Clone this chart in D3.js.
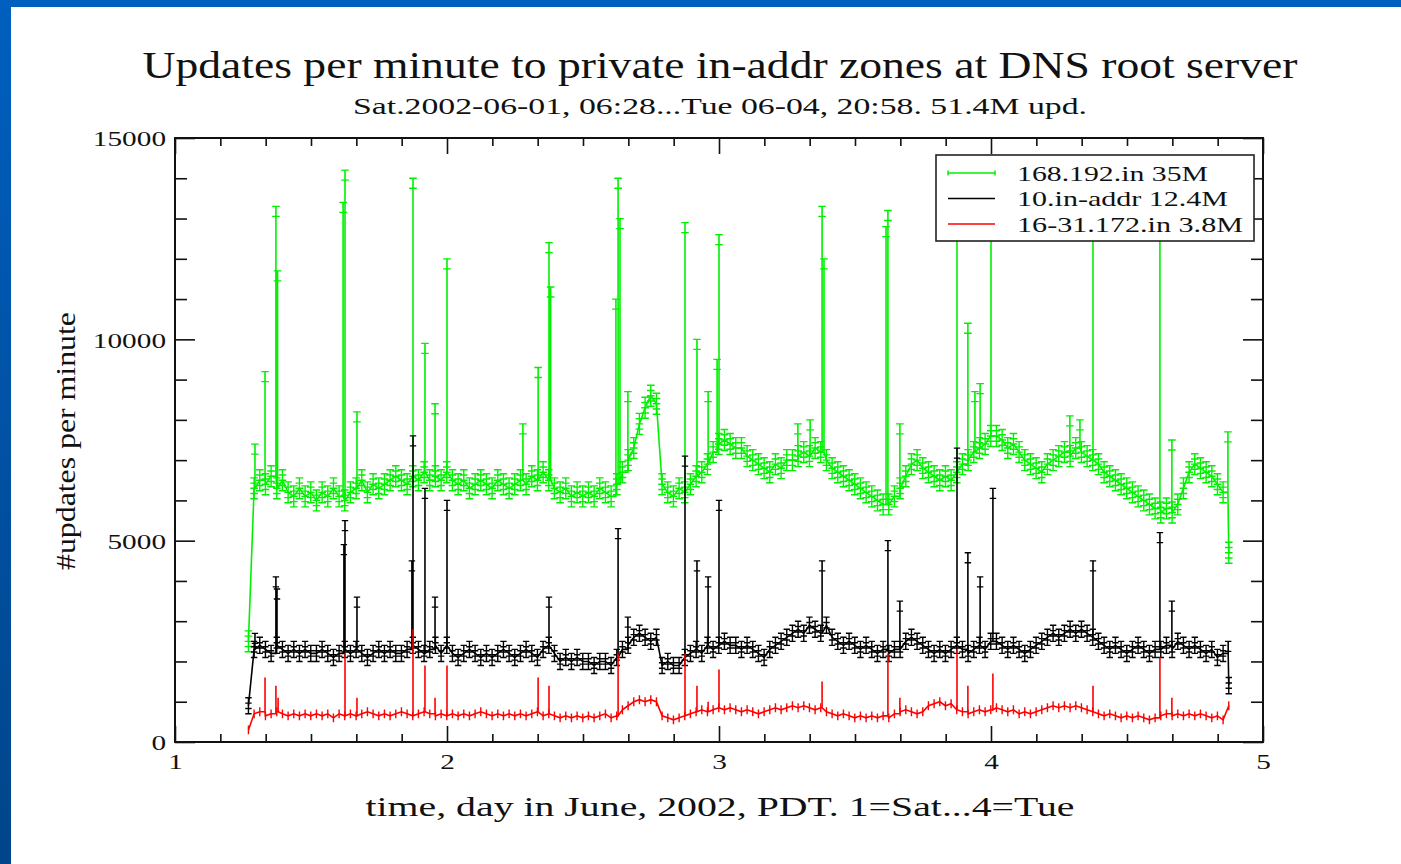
<!DOCTYPE html>
<html>
<head>
<meta charset="utf-8">
<script src="https://cdn.jsdelivr.net/npm/d3@7"></script>
<style>
  body { margin: 0; background: #fff; overflow: hidden; }
  svg text { font-family: "Liberation Serif", "Times New Roman", serif; fill: #111; }
</style>
</head>
<body>
<div id="chart"></div>
<script>
// time grid: one reading every 30 minutes, starting Sat 06:28 (day 1.27)
const startDay = 1.27;
const stepDay = 1 / 48;

// 168.192.in updates per minute (baseline readings)
const greenRate = [
  2500, 6300, 6500, 6400, 6600, 6300, 6500, 6200, 6100, 6300, 6100, 6200,
  6000, 6200, 6100, 6300, 6100, 6000, 6200, 6300, 6500, 6200, 6400, 6300,
  6400, 6500, 6600, 6500, 6400, 6600, 6500, 6700, 6500, 6600, 6500, 6700,
  6500, 6400, 6500, 6300, 6400, 6500, 6400, 6300, 6500, 6400, 6300, 6400,
  6500, 6400, 6600, 6500, 6700, 6500, 6300, 6200, 6300, 6100, 6200, 6100,
  6200, 6100, 6300, 6200, 6100, 6400, 6700, 7000, 7300, 7900, 8300, 8600,
  8400, 6400, 6200, 6100, 6300, 6200, 6400, 6600, 6700, 6900, 7200, 7400,
  7500, 7400, 7300, 7300, 7100, 7000, 6900, 6800, 6700, 6900, 6800, 7000,
  7000, 7100, 7200, 7100, 7300, 7200, 7000, 6800, 6700, 6600, 6500, 6400,
  6300, 6200, 6100, 6000, 5900, 5900, 6100, 6300, 6600, 6900, 7000, 6800,
  6700, 6600, 6500, 6600, 6500, 6700, 6900, 7000, 7200, 7300, 7400, 7600,
  7600, 7500, 7300, 7400, 7200, 7000, 6900, 6800, 6700, 6900, 7000, 7100,
  7200, 7100, 7300, 7200, 7100, 7000, 6900, 6700, 6600, 6500, 6400, 6300,
  6200, 6100, 6000, 5900, 5800, 5700, 5800, 5700, 5900, 6300, 6700, 6900,
  6800, 6700, 6600, 6400, 6200, 4700
];
// short bursts [day, updates per minute]
const greenSpikes = [
  [1.294, 7400], [1.331, 9200], [1.371, 13300], [1.377, 11700],
  [1.618, 13400], [1.625, 14200], [1.669, 8200],
  [1.875, 14000], [1.919, 9900], [1.956, 8400], [2.000, 12000],
  [2.279, 7900], [2.335, 9300], [2.375, 12400], [2.381, 11300],
  [2.621, 11000], [2.629, 14000], [2.636, 13000], [2.665, 8700],
  [2.875, 12900], [2.919, 10000], [2.960, 8700], [2.993, 9500], [3.000, 12600],
  [3.290, 7900], [3.335, 8000], [3.379, 13300], [3.386, 12000],
  [3.614, 12800], [3.621, 13200], [3.665, 7900],
  [3.875, 13800], [3.915, 10400], [3.941, 8700], [3.960, 8900], [4.000, 12800],
  [4.290, 8100], [4.327, 8000], [4.375, 13000],
  [4.621, 13500], [4.665, 7500], [4.871, 7700]
];

// 10.in-addr updates per minute
const blackRate = [
  900, 2300, 2400, 2300, 2200, 2400, 2300, 2200, 2300, 2200, 2300, 2200,
  2200, 2300, 2200, 2100, 2200, 2300, 2200, 2300, 2200, 2100, 2200, 2300,
  2200, 2300, 2200, 2200, 2300, 2400, 2300, 2200, 2300, 2400, 2200, 2400,
  2200, 2100, 2200, 2300, 2200, 2100, 2200, 2100, 2200, 2300, 2200, 2100,
  2200, 2300, 2200, 2100, 2300, 2400, 2200, 2000, 2100, 2000, 2100, 2000,
  2000, 1900, 2000, 2000, 1900, 2100, 2300, 2400, 2600, 2700, 2600, 2500,
  2600, 1900, 2000, 1900, 1900, 2100, 2200, 2300, 2200, 2400, 2300, 2400,
  2500, 2400, 2400, 2300, 2400, 2300, 2200, 2100, 2300, 2400, 2500, 2600,
  2700, 2800, 2700, 2900, 2800, 2700, 2900, 2600, 2500, 2400, 2500, 2400,
  2300, 2400, 2300, 2200, 2300, 2200, 2300, 2300, 2500, 2600, 2500, 2400,
  2300, 2200, 2300, 2200, 2300, 2400, 2300, 2200, 2300, 2400, 2300, 2500,
  2500, 2400, 2300, 2400, 2300, 2200, 2300, 2400, 2500, 2600, 2700, 2600,
  2700, 2800, 2700, 2800, 2700, 2600, 2500, 2400, 2300, 2400, 2300, 2200,
  2300, 2400, 2300, 2200, 2300, 2300, 2400, 2300, 2500, 2400, 2300, 2400,
  2300, 2200, 2300, 2100, 2200, 1400
];
const blackSpikes = [
  [1.294, 2700], [1.371, 4100], [1.375, 3800],
  [1.621, 4900], [1.625, 5500], [1.669, 3600],
  [1.871, 4500], [1.875, 7600], [1.919, 6300], [1.956, 3600], [2.000, 6000],
  [2.375, 3600], [2.629, 5300], [2.665, 3100],
  [2.875, 7100], [2.919, 4500], [2.960, 4100], [3.000, 6000],
  [3.379, 4500], [3.621, 5000], [3.665, 3500],
  [3.875, 7300], [3.915, 4700], [3.960, 4100], [4.007, 6300],
  [4.375, 4500], [4.621, 5200], [4.665, 3500], [4.872, 2500]
];

// 16-31.172.in updates per minute
const redRate = [
  300, 700, 750, 650, 700, 750, 700, 650, 700, 650, 700, 650,
  700, 650, 700, 600, 700, 650, 700, 650, 700, 750, 700, 650,
  700, 650, 700, 750, 700, 650, 700, 750, 700, 650, 700, 650,
  700, 650, 700, 650, 700, 750, 700, 650, 700, 650, 700, 650,
  700, 650, 700, 750, 650, 700, 650, 600, 650, 600, 650, 600,
  650, 600, 650, 700, 600, 650, 800, 900, 1000, 1050, 1000, 1050,
  1000, 650, 600, 550, 600, 650, 700, 750, 800, 750, 800, 850,
  800, 850, 800, 750, 800, 750, 700, 750, 800, 850, 800, 850,
  900, 850, 900, 850, 800, 850, 750, 700, 650, 700, 650, 600,
  650, 600, 650, 600, 650, 600, 700, 750, 800, 750, 700, 750,
  900, 950, 1000, 900, 950, 800, 750, 700, 750, 800, 750, 800,
  850, 800, 750, 800, 700, 750, 700, 750, 800, 850, 900, 850,
  900, 850, 900, 850, 800, 750, 700, 650, 700, 650, 600, 650,
  600, 650, 600, 550, 600, 650, 700, 650, 700, 650, 700, 650,
  700, 650, 600, 650, 550, 900
];
const redSpikes = [
  [1.331, 1600], [1.371, 1400], [1.379, 1100],
  [1.625, 2200], [1.669, 1100],
  [1.875, 2800], [1.919, 1900], [1.956, 1100], [2.000, 1900],
  [2.335, 1600], [2.375, 1400], [2.629, 2200],
  [2.875, 2200], [2.919, 1400], [2.960, 1000], [3.000, 1800],
  [3.379, 1500], [3.621, 2200], [3.665, 1100],
  [3.875, 2300], [3.915, 1400], [4.007, 1700],
  [4.375, 1400], [4.621, 2100], [4.665, 1100]
];

// minute-to-minute scatter around each reading (half band width, updates/min)
const greenScatter = 260;
const blackScatter = 200;
const redScatter = 110;

const seriesNames = ['168.192.in 35M', '10.in-addr 12.4M', '16-31.172.in 3.8M'];
const seriesColors = ['#00f000', '#000000', '#ff0000'];
const dayTicks = [1, 2, 3, 4, 5];
const rateTicks = [0, 5000, 10000, 15000];

class RateChart {
  constructor(_config, _series) {
    this.config = {
      parentElement: _config.parentElement,
      containerWidth: _config.containerWidth || 1401,
      containerHeight: _config.containerHeight || 864,
      frame: _config.frame || { left: 175, right: 1263, top: 138, bottom: 742 }
    };
    this.series = _series;
    this.initVis();
  }

  initVis() {
    let vis = this;

    vis.svg = d3.select(vis.config.parentElement)
      .append('svg')
      .attr('width', vis.config.containerWidth)
      .attr('height', vis.config.containerHeight);

    // blue slide border
    const grad = vis.svg.append('defs').append('linearGradient')
      .attr('id', 'border').attr('x1', 0).attr('y1', 0).attr('x2', 0).attr('y2', 1);
    grad.append('stop').attr('offset', '0%').attr('stop-color', '#005fbf');
    grad.append('stop').attr('offset', '100%').attr('stop-color', '#00458a');
    vis.svg.append('rect').attr('width', vis.config.containerWidth).attr('height', vis.config.containerHeight)
      .attr('fill', 'url(#border)');
    vis.svg.append('rect').attr('x', 11).attr('y', 7)
      .attr('width', vis.config.containerWidth - 11).attr('height', vis.config.containerHeight - 7)
      .attr('fill', '#fff');

    const f = vis.config.frame;
    vis.xScale = d3.scaleLinear().domain([1, 5]).range([f.left, f.right]);
    vis.yScale = d3.scaleLinear().domain([0, 15000]).range([f.bottom, f.top]);

    // titles
    vis.svg.append('text')
      .attr('x', 720).attr('y', 78)
      .attr('text-anchor', 'middle')
      .style('font-size', '38px')
      .attr('textLength', 1155).attr('lengthAdjust', 'spacingAndGlyphs')
      .text('Updates per minute to private in-addr zones at DNS root server');
    vis.svg.append('text')
      .attr('x', 720).attr('y', 114)
      .attr('text-anchor', 'middle')
      .style('font-size', '24px')
      .attr('textLength', 734).attr('lengthAdjust', 'spacingAndGlyphs')
      .text('Sat.2002-06-01, 06:28...Tue 06-04, 20:58. 51.4M upd.');
    vis.svg.append('text')
      .attr('x', 720).attr('y', 816)
      .attr('text-anchor', 'middle')
      .style('font-size', '27px')
      .attr('textLength', 709).attr('lengthAdjust', 'spacingAndGlyphs')
      .text('time, day in June, 2002, PDT. 1=Sat...4=Tue');
    vis.svg.append('text')
      .attr('transform', 'translate(75,441) rotate(-90)')
      .attr('text-anchor', 'middle')
      .style('font-size', '28px')
      .attr('textLength', 258).attr('lengthAdjust', 'spacingAndGlyphs')
      .text('#updates per minute');

    vis.plot = vis.svg.append('g');
    vis.axes = vis.svg.append('g');

    vis.updateVis();
  }

  updateVis() {
    let vis = this;
    const f = vis.config.frame;
    const minorDays = d3.range(1, 5.001, 1 / 6).filter(d => Math.abs(d - Math.round(d)) > 1e-6);
    const minorRates = d3.range(0, 15001, 1000).filter(d => d % 5000 !== 0);

    // regular readings plus bursts; a burst rises straight up from the reading before it
    const build = (rates, spikes) => {
      const pts = rates.map((v, i) => ({ t: startDay + i * stepDay, v: v, grid: true }));
      spikes.forEach(([t, peak]) => {
        const i = Math.max(0, Math.min(rates.length - 1, Math.floor((t - startDay) / stepDay)));
        pts.push({ t: t, v: rates[i] }, { t: t, v: peak, top: true }, { t: t, v: rates[i] });
      });
      return pts.sort((a, b) => a.t - b.t);
    };

    const line = d3.line().x(d => vis.xScale(d.t)).y(d => vis.yScale(d.v));

    vis.series.forEach((s, k) => {
      const pts = build(s.rates, s.spikes);
      const c = s.cap;

      // scatter band of the per-minute values: a bar with symbol rungs per reading
      vis.plot.append('path')
        .attr('fill', 'none')
        .attr('stroke', seriesColors[k])
        .attr('stroke-width', 1.4)
        .attr('d', pts.filter(d => d.grid).map(d => {
          const x = vis.xScale(d.t);
          const lo = vis.yScale(Math.max(0, d.v - s.scatter));
          const hi = vis.yScale(d.v + s.scatter);
          let p = `M${x},${lo}V${hi}`;
          for (let r = 0; r < s.rungs; r++) {
            const y = lo + (hi - lo) * r / (s.rungs - 1);
            p += `M${x - c},${y}h${2 * c}`;
          }
          return p;
        }).join(''));

      vis.plot.append('path')
        .datum(pts)
        .attr('fill', 'none')
        .attr('stroke', seriesColors[k])
        .attr('stroke-width', 1.6)
        .attr('d', line);

      if (c > 0) {
        vis.plot.append('path')
          .attr('fill', 'none')
          .attr('stroke', seriesColors[k])
          .attr('stroke-width', 1.3)
          .attr('d', pts.filter(d => d.top).map(d => {
            const x = vis.xScale(d.t), y = vis.yScale(d.v);
            return `M${x - c},${y}h${2 * c}M${x - c},${y + 10}h${2 * c}`;
          }).join(''));
      }
    });

    // frame and inward ticks on all four sides
    const tickStyle = g => {
      g.select('.domain').remove();
      g.selectAll('.tick line').attr('stroke', '#111').attr('stroke-width', 1.6);
    };
    const addAxis = (axis, tx, ty) => vis.axes.append('g')
      .attr('transform', `translate(${tx},${ty})`).call(axis).call(tickStyle);

    addAxis(d3.axisBottom(vis.xScale).tickValues(minorDays).tickSize(-8).tickFormat(''), 0, f.bottom);
    addAxis(d3.axisTop(vis.xScale).tickValues(minorDays).tickSize(-8).tickFormat(''), 0, f.top);
    addAxis(d3.axisTop(vis.xScale).tickValues(dayTicks).tickSize(-16).tickFormat(''), 0, f.top);
    addAxis(d3.axisLeft(vis.yScale).tickValues(minorRates).tickSize(-12).tickFormat(''), f.left, 0);
    addAxis(d3.axisRight(vis.yScale).tickValues(minorRates).tickSize(-12).tickFormat(''), f.right, 0);
    addAxis(d3.axisRight(vis.yScale).tickValues(rateTicks).tickSize(-20).tickFormat(''), f.right, 0);

    const xAxisG = addAxis(d3.axisBottom(vis.xScale).tickValues(dayTicks).tickSize(-16)
      .tickPadding(11).tickFormat(d3.format('d')), 0, f.bottom);
    const yAxisG = addAxis(d3.axisLeft(vis.yScale).tickValues(rateTicks).tickSize(-20)
      .tickPadding(9).tickFormat(d3.format('d')), f.left, 0);
    [xAxisG, yAxisG].forEach(g => {
      g.selectAll('text')
        .style('font-size', '22px')
        .attr('fill', '#111')
        .each(function () {
          const w = this.getComputedTextLength();
          d3.select(this).attr('textLength', w * 1.33).attr('lengthAdjust', 'spacingAndGlyphs');
        });
    });
    yAxisG.selectAll('text').attr('dy', '0.36em');

    vis.axes.append('rect')
      .attr('x', f.left).attr('y', f.top)
      .attr('width', f.right - f.left).attr('height', f.bottom - f.top)
      .attr('fill', 'none').attr('stroke', '#111').attr('stroke-width', 2);

    // legend
    const legend = vis.axes.append('g');
    legend.append('rect')
      .attr('x', 936).attr('y', 155).attr('width', 318).attr('height', 86)
      .attr('fill', '#fff').attr('stroke', '#222').attr('stroke-width', 1.6);
    const textWidths = [191, 211, 226];
    seriesNames.forEach((name, k) => {
      const y = 173 + k * 25.5;
      legend.append('line')
        .attr('x1', 948).attr('x2', 995).attr('y1', y).attr('y2', y)
        .attr('stroke', seriesColors[k]).attr('stroke-width', 1.5);
      if (k === 0) {
        [948, 995].forEach(x => legend.append('path')
          .attr('d', `M${x},${y - 2.5}v5`)
          .attr('stroke', seriesColors[k]).attr('stroke-width', 1.5));
      }
      legend.append('text')
        .attr('x', 1017).attr('y', y + 7.5)
        .style('font-size', '22px')
        .attr('textLength', textWidths[k]).attr('lengthAdjust', 'spacingAndGlyphs')
        .text(name);
    });
  }
}

new RateChart({ parentElement: '#chart' }, [
  { rates: greenRate, spikes: greenSpikes, scatter: greenScatter, cap: 3.8, rungs: 5 },
  { rates: blackRate, spikes: blackSpikes, scatter: blackScatter, cap: 3.2, rungs: 4 },
  { rates: redRate, spikes: redSpikes, scatter: redScatter, cap: 0, rungs: 0 }
]);
</script>
</body>
</html>
